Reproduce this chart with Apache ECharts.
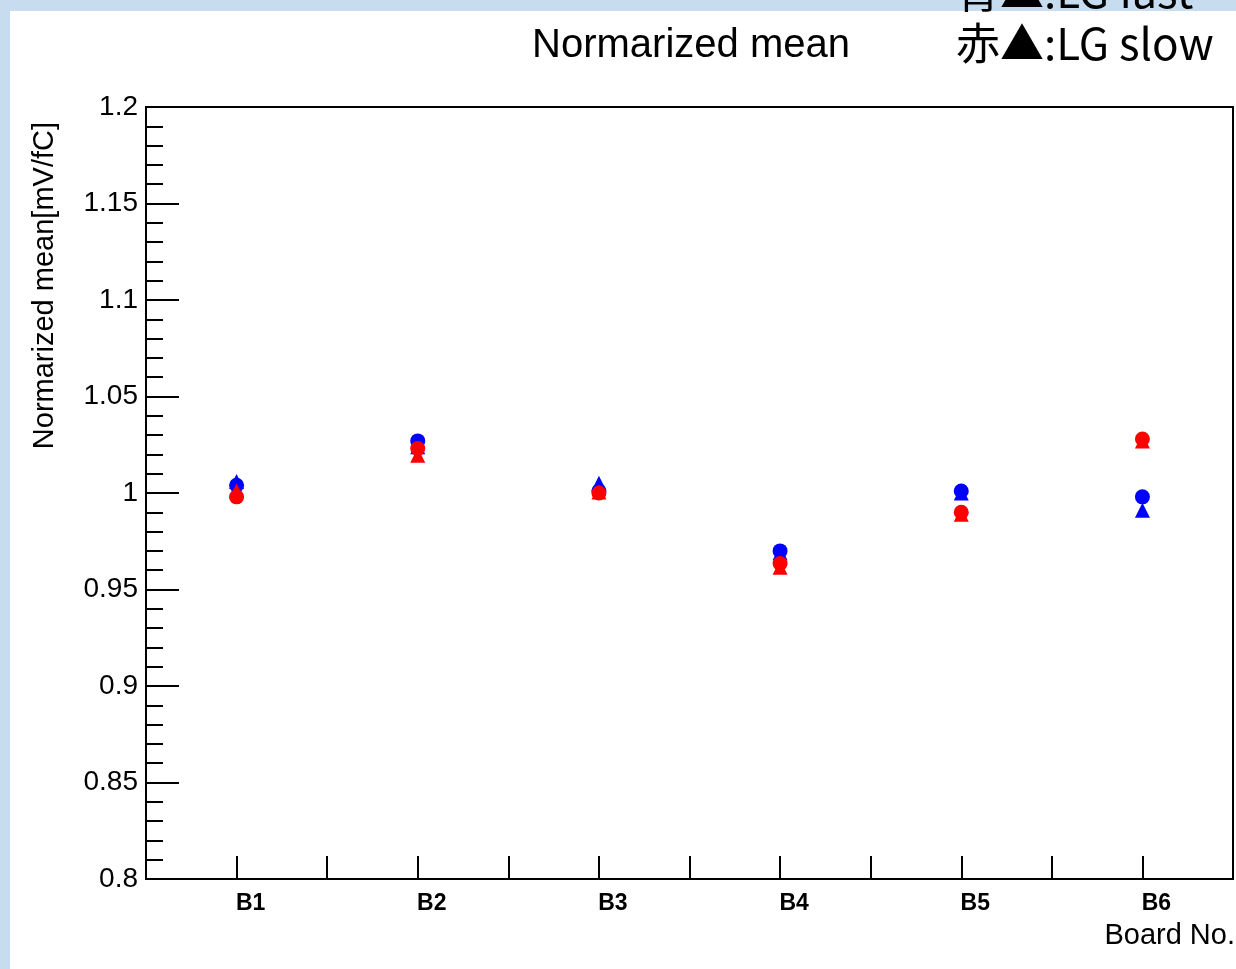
<!DOCTYPE html>
<html>
<head>
<meta charset="utf-8">
<script src="https://cdn.jsdelivr.net/npm/echarts@6/dist/echarts.min.js"></script>
<style>
  html, body { margin: 0; padding: 0; background: #c8dcef; }
  #chart { width: 1236px; height: 969px; }
</style>
</head>
<body>
<div id="chart"></div>
<script>
// Board labels and their positions on the x axis
const boards = ['B1', 'B2', 'B3', 'B4', 'B5', 'B6'];
const boardPos = [1, 2, 3, 4, 5, 6];

// Normalized mean [mV/fC] per board
const fastHG = [1.004, 1.027, 1.001, 0.970, 1.001, 0.998];   // blue circles
const fastLG = [1.006, 1.024, 1.005, 0.969, 1.000, 0.991];   // blue triangles
const slowHG = [0.998, 1.023, 1.000, 0.9635, 0.990, 1.028];  // red circles
const slowLG = [1.001, 1.0195, 1.0005, 0.9615, 0.989, 1.027]; // red triangles

// Y axis tick values
const yTicks = [0.8, 0.85, 0.9, 0.95, 1, 1.05, 1.1, 1.15, 1.2];

const pairs = vals => boardPos.map((x, i) => [x, vals[i]]);

const FONT = '"Liberation Sans", Arial, Helvetica, sans-serif';
const CJK = '"Noto Sans CJK JP", "Noto Sans", sans-serif';

function txt(x, y, text, font, align, vAlign, extra) {
  return Object.assign({
    type: 'text', x: x, y: y, z: 100,
    style: {
      text: text, font: font, fill: '#000',
      textAlign: align, textVerticalAlign: vAlign,
      align: align, verticalAlign: vAlign
    }
  }, extra || {});
}

const chart = echarts.init(document.getElementById('chart'), null, { renderer: 'canvas' });

const option = {
  animation: false,
  backgroundColor: '#c8dcef',
  grid: {
    left: 146, top: 107, right: 3, bottom: 90,
    show: true, backgroundColor: '#ffffff',
    borderColor: '#000', borderWidth: 2
  },
  xAxis: {
    type: 'value',
    min: 0.5, max: 6.5, interval: 0.5,
    axisLine: { onZero: false, lineStyle: { color: '#000', width: 2 } },
    axisTick: { inside: true, length: 23, lineStyle: { color: '#000', width: 2 } },
    splitLine: { show: false },
    axisLabel: {
      margin: 13,
      color: '#000',
      fontFamily: FONT, fontSize: 23, fontWeight: 'bold',
      padding: [0, 0, 0, 28],
      showMinLabel: true, showMaxLabel: true,
      formatter: v => {
        const i = boardPos.indexOf(v);
        return i >= 0 ? boards[i] : '';
      }
    }
  },
  yAxis: {
    type: 'value',
    min: yTicks[0], max: yTicks[yTicks.length - 1], interval: 0.05,
    axisLine: { onZero: false, lineStyle: { color: '#000', width: 2 } },
    axisTick: { inside: true, length: 33, lineStyle: { color: '#000', width: 2 } },
    minorTick: { show: true, splitNumber: 5, length: 17, lineStyle: { color: '#000', width: 2 } },
    splitLine: { show: false },
    axisLabel: {
      margin: 8, color: '#000',
      fontFamily: FONT, fontSize: 28,
      formatter: v => String(+v.toFixed(2))
    }
  },
  graphic: [
    {
      type: 'rect', z: -10,
      shape: { x: 10, y: 11, width: 1226, height: 958 },
      style: { fill: '#ffffff' }
    },
    txt(691, 46, 'Normarized mean', '40px ' + FONT, 'center', 'middle'),
    txt(45, 122, 'Normarized mean[mV/fC]', '29px ' + FONT, 'right', 'middle', { rotation: Math.PI / 2 }),
    txt(1235, 936, 'Board No.', '29px ' + FONT, 'right', 'middle'),
    txt(956, -9, '青▲:LG fast', '44px ' + CJK, 'left', 'middle'),
    txt(956, 43, '赤▲:LG slow', '44px ' + CJK, 'left', 'middle')
  ],
  series: [
    { name: 'HG fast', type: 'scatter', data: pairs(fastHG), symbol: 'circle', symbolSize: 15,
      itemStyle: { color: '#0000ff', opacity: 1 }, z: 2 },
    { name: 'LG fast', type: 'scatter', data: pairs(fastLG), symbol: 'triangle', symbolSize: 15,
      itemStyle: { color: '#0000ff', opacity: 1 }, z: 3 },
    { name: 'HG slow', type: 'scatter', data: pairs(slowHG), symbol: 'circle', symbolSize: 15,
      itemStyle: { color: '#ff0000', opacity: 1 }, z: 4 },
    { name: 'LG slow', type: 'scatter', data: pairs(slowLG), symbol: 'triangle', symbolSize: 15,
      itemStyle: { color: '#ff0000', opacity: 1 }, z: 5 }
  ]
};

chart.setOption(option);
</script>
</body>
</html>
